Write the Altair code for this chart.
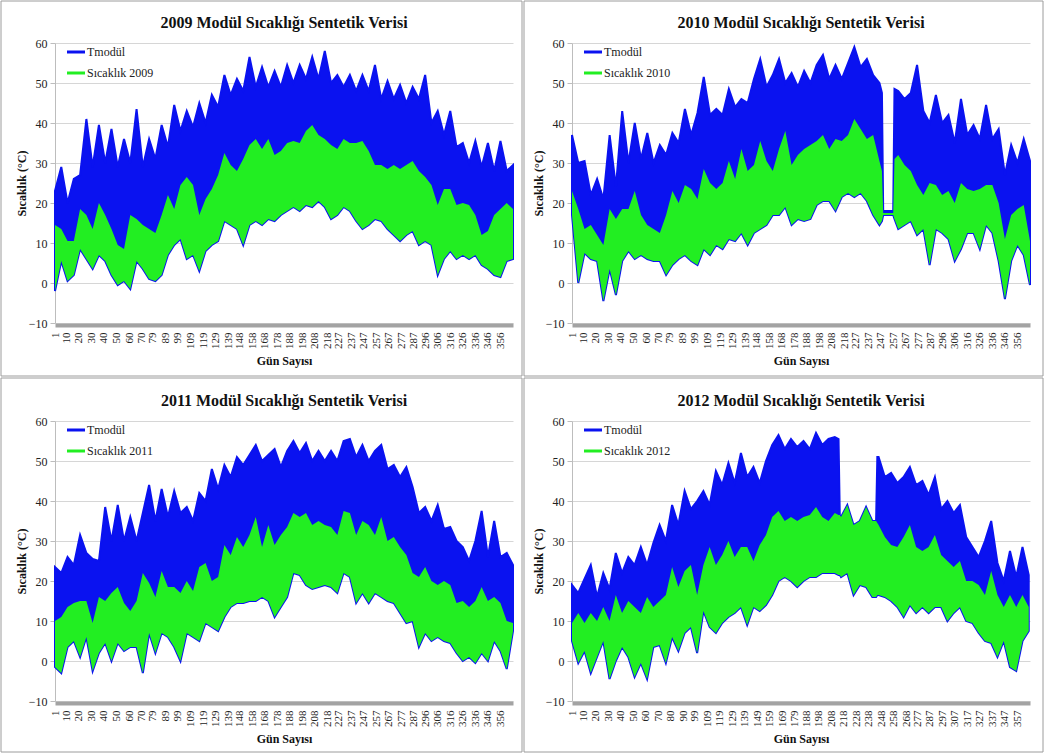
import altair as alt
import pandas as pd

BLUE = "#0a12f0"
GREEN = "#22ee22"
FONT = "Liberation Serif"

# x-axis tick labels (day numbers shown under each panel)
X_LABELS_A = [1, 10, 20, 30, 40, 50, 60, 70, 79, 89, 99, 109, 119, 129, 139, 148, 158, 168, 178, 188,
              198, 208, 218, 227, 237, 247, 257, 267, 277, 287, 296, 306, 316, 326, 336, 346, 356]
X_LABELS_B = [1, 10, 20, 30, 40, 50, 60, 70, 80, 90, 99, 109, 119, 129, 139, 149, 159, 169, 179, 188,
              198, 208, 218, 228, 238, 248, 258, 268, 277, 287, 297, 307, 317, 327, 337, 347, 357]

# sample days (every 5 days), extra days mark the data gaps
GRID = [0, 5, 10, 15, 20, 25, 30, 35, 40, 45, 50, 55, 60, 65, 70, 75, 80, 85, 90, 95,
        100, 105, 110, 115, 120, 125, 130, 135, 140, 145, 150, 155, 160, 165, 170, 175, 180, 185, 190, 195,
        200, 205, 210, 215, 220, 225, 230, 235, 240, 245, 250, 255, 260, 265, 270, 275, 280, 285, 290, 295,
        300, 305, 310, 315, 320, 325, 330, 335, 340, 345, 350, 355, 360, 365]
DAYS_2009 = GRID
DAYS_2010 = GRID + [247, 248, 256, 257]
DAYS_2011 = GRID
DAYS_2012 = GRID + [213, 214, 243, 244]

# ---- 2009 ----  Tmodül upper envelope, Sıcaklık upper envelope, common lower envelope
T_2009 = [23, 29, 20, 26, 27, 41, 29, 39.5, 30, 38.5,
          29, 36, 30, 43.5, 29, 36, 31, 39.5, 34, 44.5,
          38, 43, 39, 45, 40, 47, 44, 52, 47, 51,
          48, 56.5, 49, 54, 49, 53, 49, 54.5, 50, 54.5,
          51, 56.5, 51, 58, 50, 52, 49, 52, 48, 52,
          48, 54.5, 46, 50.5, 46, 49.5, 45, 49, 46, 52,
          40, 43, 37, 43, 34, 35, 30, 35.5, 29, 35,
          28, 35.5, 28, 29.5]
S_2009 = [14.5, 13.5, 10.5, 10.5, 18.5, 17, 13.5, 20, 17, 13.5,
          9.5, 8.5, 17, 16, 14.5, 13.5, 12.5, 17, 22, 18.5,
          24.5, 26.5, 24.5, 17, 21, 23.5, 27, 32.5, 29.5, 28,
          31, 34.5, 36, 33.5, 36, 32, 33, 35, 35.5, 35,
          38, 39.5, 37, 36, 34.5, 33.5, 36, 35, 35, 35.5,
          33, 29.5, 29.5, 28.5, 29.5, 28.5, 29.5, 30.5, 28, 26.5,
          24.5, 19.5, 23.5, 23.5, 19.5, 20, 19.5, 17, 12, 13,
          17, 18.5, 20, 18.5]
LO_2009 = [-2, 5.5, 0.5, 2, 8.5, 6, 3.5, 7, 5.5, 2,
           -0.5, 0.5, -1.5, 5.5, 3.5, 1, 0.5, 2, 7, 9.5,
           11, 6, 7, 3, 8, 9.5, 10.5, 15.5, 14.5, 13.5,
           9.5, 14.5, 15.5, 14.5, 16, 15.5, 17, 18, 19, 18,
           19.5, 19, 20.5, 19, 16, 17, 19, 18, 15.5, 13.5,
           14.5, 16, 15.5, 13.5, 12, 10.5, 12, 13, 9.5, 10.5,
           9.5, 2, 6, 8, 6, 7, 6, 7, 4.5, 3.5,
           2, 1.5, 5.5, 6]

# ---- 2010 ----
T_2010 = [37, 30, 30.5, 22, 26, 21, 37, 24, 43, 30,
          40, 31, 37.5, 30, 34.5, 32, 37.5, 35, 43.5, 37,
          42.5, 51.5, 42, 43.5, 42, 48.5, 44, 46, 45, 51,
          56, 49, 52, 56, 50, 52.5, 49, 53, 50, 54.5,
          57, 51, 54.5, 51, 55, 59, 54, 56, 52, 50,
          18, 18, 48, 46, 47.5, 54.5, 43, 40, 47, 40,
          42, 35, 46, 37, 39.5, 36, 44.5, 36, 38.5, 27,
          34.5, 30, 36, 30.5] + [47.5, 18, 18, 48.5]
S_2010 = [23, 18.5, 13.5, 14.5, 12, 9.5, 18.5, 16, 18.5, 18.5,
          23, 17, 14.5, 13.5, 12.5, 17, 23, 20, 24.5, 23.5,
          21, 28.5, 25, 23.5, 25, 30.5, 26, 33.5, 28, 29.5,
          35.5, 30.5, 28, 33.5, 38, 29.5, 32, 33.5, 34.5, 35.5,
          37, 33.5, 36, 35.5, 37, 41, 38.5, 36, 37, 30.5,
          17.5, 17.5, 32, 29.5, 28, 24.5, 22, 25, 24.5, 22,
          23, 20, 25, 23.5, 23, 23.5, 24.5, 24.5, 20, 11,
          17, 18.5, 19.5, 10.5] + [28, 17.5, 17.5, 31]
LO_2010 = [17, 0, 7.5, 6, 5.5, -4.5, 3.5, -3, 5.5, 8,
           6, 7, 6, 5.5, 5.5, 2, 4.5, 6, 7, 5.5,
           4.5, 8.5, 7, 9.5, 8.5, 11, 10.5, 12.5, 9.5, 12.5,
           13.5, 14.5, 17, 17, 19, 14.5, 16, 15.5, 16, 19.5,
           20.5, 20.5, 18, 21.5, 22.5, 21.5, 22.5, 20.5, 17, 14.5,
           17, 17, 13.5, 14.5, 15.5, 12, 13.5, 4.5, 13.5, 12.5,
           11, 5.5, 8.5, 12.5, 12.5, 8.5, 14.5, 12.5, 5.5, -4,
           5.5, 9.5, 7, -0.5] + [15.5, 17, 17, 16]

# ---- 2011 ----
T_2011 = [23.5, 22, 26, 24, 31.5, 27, 25.5, 25, 38.5, 30,
          39, 30, 36, 30, 37, 44, 35, 43, 36, 42.5,
          37, 38.5, 35, 42, 40, 48, 43, 49, 46, 51,
          49, 51.5, 54, 50, 51.5, 53, 48.5, 52.5, 55, 52,
          54.5, 50, 52.5, 50, 52.5, 50, 55, 55.5, 51, 54,
          50, 52.5, 54, 48, 49, 46, 48.5, 43.5, 37, 38.5,
          35, 39, 33, 33.5, 30, 28.5, 25, 30, 37.5, 26,
          35, 26, 27, 24]
S_2011 = [10, 11, 13.5, 14.5, 15, 15, 9.5, 16, 15, 17,
          18.5, 14.5, 12.5, 15, 22, 19.5, 16, 22.5, 18.5, 18.5,
          17, 20, 17.5, 23.5, 24.5, 20, 21, 29, 26.5, 31,
          28.5, 31.5, 36, 28.5, 34, 29, 31.5, 33.5, 37, 36,
          37, 34, 35, 34, 33.5, 31.5, 37.5, 37, 31.5, 35,
          34, 31.5, 36, 30, 31, 28.5, 26.5, 22, 21, 23.5,
          20, 19, 20, 19, 14.5, 15, 13.5, 15, 18.5, 15,
          16, 14.5, 10, 9.5]
LO_2011 = [-1.5, -3, 3.5, 5, 1, 6, -2.5, 2, 4.5, 0,
           4.5, 2.5, 3.5, 3.5, -3, 7, 2, 7, 6, 3.5,
           0, 7, 6, 5, 9.5, 8.5, 7.5, 11, 13.5, 14.5,
           14.5, 15, 15, 16, 15, 11, 13.5, 16, 22, 21.5,
           19, 18, 18.5, 19, 18.5, 17, 22, 21, 14.5, 17,
           14.5, 17, 16, 15, 14.5, 12, 9.5, 10, 3.5, 7,
           5, 6, 5, 4.5, 2, 0, 1, -0.5, 2, 0,
           5, 2.5, -2, 7.5]

# ---- 2012 ----
T_2012 = [19, 17, 20.5, 24, 16, 22, 18, 27, 22, 26,
          24, 28.5, 24, 29.5, 34, 30, 39, 34, 42.5, 38,
          40, 42.5, 39, 47.5, 44, 49.5, 44.5, 52, 46, 48.5,
          44.5, 50, 54, 56.5, 53, 55.5, 53.5, 55, 53, 57,
          54, 55.5, 56, 36, 39, 34, 35, 38.5, 35, 51,
          46, 47, 44.5, 46, 48.5, 44, 45, 41.5, 46, 38,
          40, 37, 39, 31, 28.5, 26, 30, 35, 24.5, 20,
          27.5, 21, 28.5, 21.5] + [55.5, 36.5, 35, 51]
S_2012 = [9.5, 12, 9.5, 12, 10, 13.5, 10, 16.5, 12, 15,
          13.5, 12, 16, 13.5, 15, 16.5, 23.5, 18.5, 22.5, 24,
          16.5, 24, 28.5, 24, 26.5, 30, 26, 28.5, 28.5, 25,
          29, 31.5, 36, 37.5, 35, 36, 35, 36, 36.5, 38.5,
          36, 35, 37, 36, 39, 34, 35, 38.5, 35, 34,
          31, 29, 28.5, 31, 34, 28.5, 27.5, 28.5, 31.5, 26.5,
          25, 23.5, 25, 20, 20, 19, 16.5, 22.5, 16.5, 13.5,
          16.5, 13.5, 16.5, 13.5] + [36.5, 36.5, 35, 34.5]
LO_2012 = [5, -0.5, 2.5, -3, 1, 5, -4.5, 0, 3.5, 1,
           -4, -0.5, -4.5, 3.5, 4, -0.5, 6, 2.5, 7, 8.5,
           2, 12.5, 8.5, 7, 9.5, 11, 12, 13.5, 9, 13.5,
           12.5, 14, 16.5, 20, 21, 20, 18.5, 20, 21, 21,
           22, 22, 22, 21, 22, 16.5, 19, 18.5, 16, 16.5,
           16, 15, 13.5, 11, 14, 12, 13.5, 12, 13.5, 13.5,
           10, 12, 13.5, 10, 9.5, 7, 5, 4.5, 1, 5,
           -1.5, -2.5, 5, 7.5] + [21.5, 21.5, 16, 16.5]

Y_TICKS = [-10, 0, 10, 20, 30, 40, 50, 60]

PW, PH = 458, 280


def panel(year, days, t, s, lo, xlabels, xmax, ox, oy, box):
    d_t = pd.DataFrame({"day": days, "lo": lo, "hi": t}).sort_values("day")
    d_s = pd.DataFrame({"day": days, "lo": lo, "hi": s}).sort_values("day")
    one = pd.DataFrame({"k": [0]})

    xenc = alt.X(
        "day:Q",
        scale=alt.Scale(domain=[0, xmax], nice=False, zero=False),
        axis=alt.Axis(
            values=[v - 1 for v in xlabels], labelExpr="datum.value + 1", tickCount=100,
            labelAngle=270, labelFont=FONT, labelFontSize=11, labelColor="#222",
            labelOverlap=False, labelPadding=7, ticks=False, grid=False,
            domainColor="#a3a3a3", domainWidth=4, offset=2,
            title="Gün Sayısı", titleFont=FONT, titleFontSize=12, titleFontWeight="bold",
            titleColor="#111", titlePadding=7,
        ),
    )
    yenc = alt.Y(
        "lo:Q",
        scale=alt.Scale(domain=[-10, 60], nice=False, zero=False),
        axis=alt.Axis(
            values=Y_TICKS, tickCount=100, labelOverlap=False, format="d",
            labelFont=FONT, labelFontSize=12, labelColor="#222",
            tickSize=5, tickColor="#bdbdbd", domainColor="#bdbdbd", labelPadding=3,
            gridColor="#d6d6d6", title="Sıcaklık (°C)", titleFont=FONT, titleFontSize=12,
            titleFontWeight="bold", titleColor="#111", titleX=-27,
        ),
    )

    border = alt.Chart(one).mark_rect(fill="white", fillOpacity=0, stroke="#9c9c9c", strokeWidth=1).encode(
        x=alt.value(box[0] - ox), x2=alt.value(box[2] - ox),
        y=alt.value(box[1] - oy), y2=alt.value(box[3] - oy),
    )
    blue = alt.Chart(d_t).mark_area(color=BLUE, stroke=BLUE, strokeWidth=2, opacity=1).encode(
        x=xenc, y=yenc, y2="hi:Q"
    )
    green = alt.Chart(d_s).mark_area(color=GREEN, opacity=1).encode(
        x="day:Q", y="lo:Q", y2="hi:Q"
    )
    title = alt.Chart(one).mark_text(
        text=f"{year} Modül Sıcaklığı Sentetik Verisi", font=FONT, fontSize=16,
        fontWeight="bold", color="#111", align="center", baseline="alphabetic",
    ).encode(x=alt.value(PW / 2), y=alt.value(-15))

    leg = []
    for i, (name, col) in enumerate([("Tmodül", BLUE), (f"Sıcaklık {year}", GREEN)]):
        yy = 9 + 21 * i
        leg.append(alt.Chart(one).mark_rule(color=col, strokeWidth=3).encode(
            x=alt.value(12), x2=alt.value(30), y=alt.value(yy)))
        leg.append(alt.Chart(one).mark_text(
            text=name, font=FONT, fontSize=12, color="#222", align="left", baseline="middle"
        ).encode(x=alt.value(32), y=alt.value(yy)))

    return alt.layer(border, blue, green, title, *leg).properties(width=PW, height=PH)


p1 = panel(2009, DAYS_2009, T_2009, S_2009, LO_2009, X_LABELS_A, 365, 55, 43, (1, 1, 522, 376))
p2 = panel(2010, DAYS_2010, T_2010, S_2010, LO_2010, X_LABELS_A, 365, 570, 43, (522, 1, 1041, 376))
p3 = panel(2011, DAYS_2011, T_2011, S_2011, LO_2011, X_LABELS_A, 365, 55, 419, (1, 376, 522, 750))
p4 = panel(2012, DAYS_2012, T_2012, S_2012, LO_2012, X_LABELS_B, 366, 570, 419, (522, 376, 1041, 750))

chart = (
    alt.concat(p1, p2, p3, p4, columns=2, spacing=0)
    .properties(padding=0, background="white")
    .configure_view(stroke=None)
)

chart.save("out.html", embed_options={"renderer": "svg", "actions": False})
